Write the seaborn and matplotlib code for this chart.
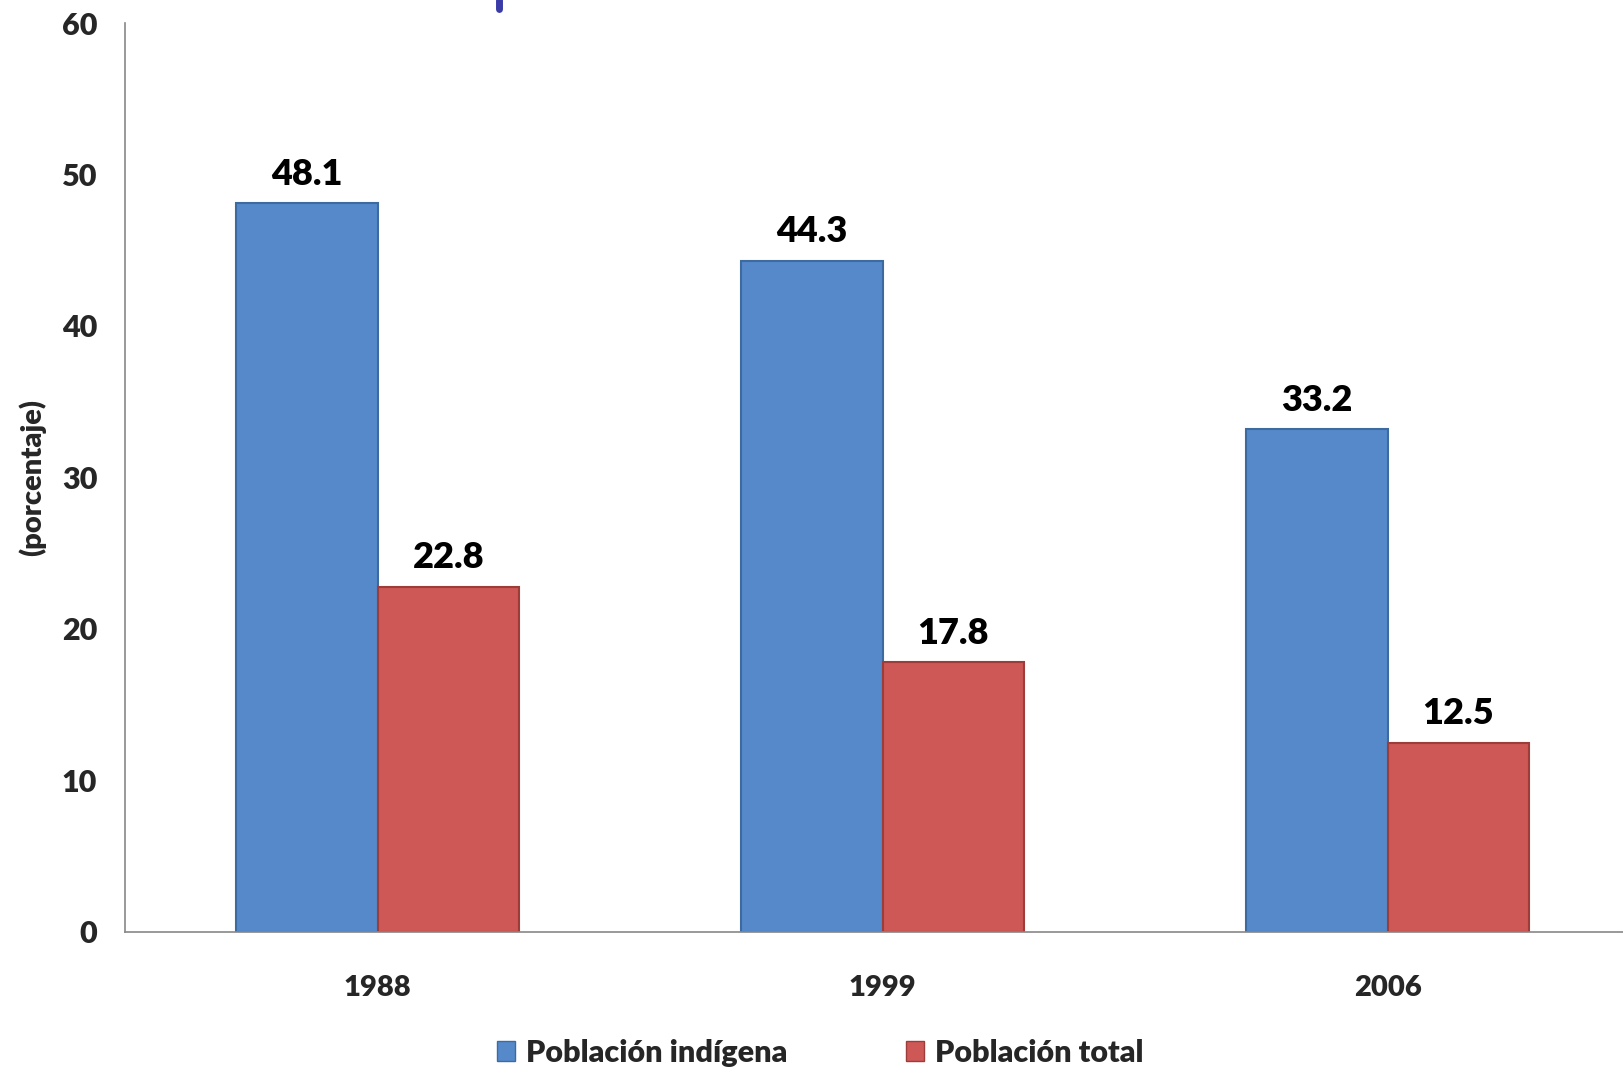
import numpy as np
import pandas as pd
import matplotlib
matplotlib.use("Agg")
import matplotlib.pyplot as plt
from matplotlib.patches import Patch
from matplotlib.lines import Line2D
import seaborn as sns

# ── Data ──────────────────────────────────────────────────────────────
years = ["1988", "1999", "2006"]
series = ["Población indígena", "Población total"]
indigena = [48.1, 44.3, 33.2]
total = [22.8, 17.8, 12.5]
colors = ["#5589CA", "#CD5856"]
edges = ["#3E6B9F", "#9E3C3A"]

df = pd.DataFrame({
    "year": years * 2,
    "serie": [series[0]] * 3 + [series[1]] * 3,
    "valor": indigena + total,
})

W = "heavy"
sns.set_style("white")
plt.rcParams["font.family"] = ["Lato", "DejaVu Sans"]
plt.rcParams["font.weight"] = W

fig = plt.figure(figsize=(16.24, 10.70), dpi=100)
ax = fig.add_axes([0.077, 0.129, 0.933, 0.8495])

sns.barplot(data=df, x="year", y="valor", hue="serie", order=years,
            hue_order=series, palette=colors, width=0.56, ax=ax,
            legend=False, saturation=1)

for cont, ec in zip(ax.containers, edges):
    for p in cont:
        p.set_edgecolor(ec)
        p.set_linewidth(1.5)
    ax.bar_label(cont, fmt="%.1f", padding=9, fontsize=26,
                 fontweight=W, color="black")

ax.set_xlim(-0.5, 2.5)
ax.set_ylim(0, 60)
ax.set_yticks(np.arange(0, 61, 10))
ax.set_xlabel("")
ax.set_ylabel("(porcentaje)", fontsize=21, fontweight=W)
ax.yaxis.set_label_coords(-0.052, 0.5)

# category separators on x axis
ax.set_xticks([-0.5, 0.5, 1.5, 2.5], minor=True)
ax.tick_params(axis="x", which="major", length=0, pad=31, labelsize=21)
ax.tick_params(axis="x", which="minor", length=8, color="#888888", width=1.2)
ax.tick_params(axis="y", length=7, color="#888888", width=1.2, pad=13,
               labelsize=22)
for lab in ax.get_xticklabels() + ax.get_yticklabels():
    lab.set_fontweight(W)

sns.despine(ax=ax, top=True, right=True)
for s in ["left", "bottom"]:
    ax.spines[s].set_color("#888888")
    ax.spines[s].set_linewidth(1.2)

handles = [Patch(facecolor=c, edgecolor=e, label=s)
           for c, e, s in zip(colors, edges, series)]
fig.legend(handles=handles, loc="center", bbox_to_anchor=(0.505, 0.016),
           ncol=2, frameon=False, handlelength=0.6,
           handleheight=0.6, handletextpad=0.35, columnspacing=3.9,
           prop={"weight": W, "size": 22})

# fragment of the slide title at the top edge
fig.add_artist(Line2D([0.3075, 0.3075], [0.992, 1.0], color="#3B3BA8",
                      linewidth=5, transform=fig.transFigure))

fig.savefig("out.png", dpi=100)
